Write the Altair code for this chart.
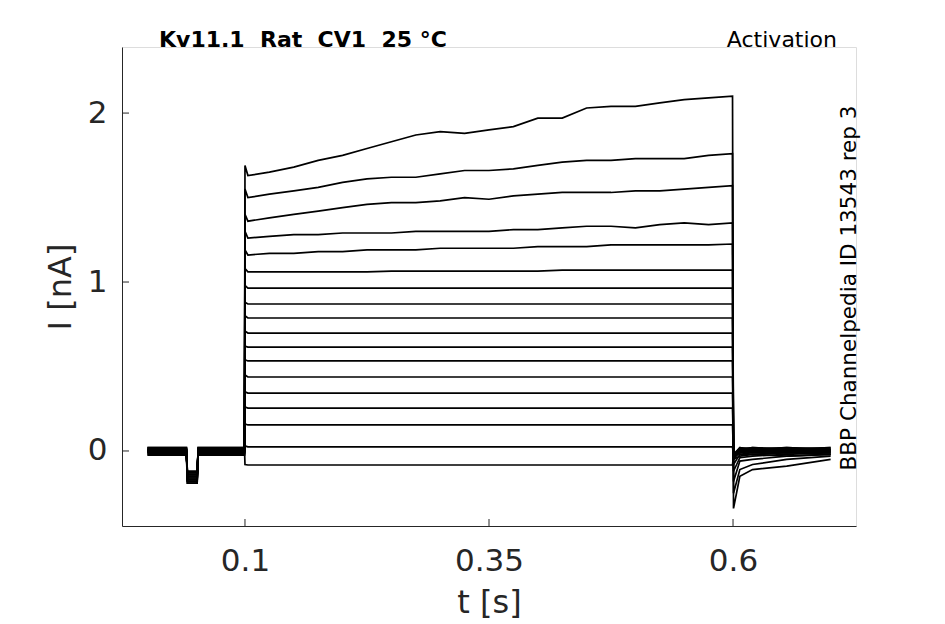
import altair as alt
import pandas as pd

# ---------------- data ----------------
# time points (s)
t_base = [0.0, 0.040, 0.041, 0.046, 0.051, 0.052, 0.0995]
t_step = [0.103, 0.125, 0.15, 0.175, 0.2, 0.225, 0.25, 0.275, 0.3, 0.325, 0.35,
          0.375, 0.4, 0.425, 0.45, 0.475, 0.5, 0.525, 0.55, 0.575, 0.5995]
t_tail = [0.6005, 0.607, 0.62, 0.655, 0.7]

# holding current before the step (nA) and the small artefact dip
baseline = [0.00, 0.01, -0.01, 0.02, -0.02, 0.005, -0.005, 0.015, -0.015,
            0.00, 0.01, -0.01, 0.02, -0.025, 0.005, -0.005, 0.00, 0.01]
dip = [-0.19, -0.17, -0.15, -0.18, -0.13, -0.16, -0.12, -0.17, -0.14,
       -0.18, -0.15, -0.13, -0.16, -0.19, -0.12, -0.14, -0.17, -0.15]

# onset peak at t = 0.1 s
spike = [1.69, 1.55, 1.40, 1.30, 1.19, 1.08, 0.98, 0.88, 0.80, 0.71, 0.62,
         0.54, 0.45, 0.35, 0.26, 0.16, 0.03, -0.08]

# current during the step (nA), one list per trace
step_traces = [
    [1.63, 1.65, 1.68, 1.72, 1.75, 1.79, 1.83, 1.87, 1.89, 1.88, 1.90,
     1.92, 1.97, 1.97, 2.03, 2.04, 2.04, 2.06, 2.08, 2.09, 2.10],
    [1.50, 1.52, 1.54, 1.56, 1.59, 1.61, 1.62, 1.62, 1.64, 1.66, 1.66,
     1.67, 1.69, 1.71, 1.72, 1.72, 1.73, 1.73, 1.73, 1.75, 1.76],
    [1.36, 1.38, 1.40, 1.42, 1.44, 1.46, 1.47, 1.47, 1.48, 1.50, 1.49,
     1.51, 1.52, 1.53, 1.53, 1.53, 1.54, 1.54, 1.55, 1.56, 1.57],
    [1.26, 1.27, 1.28, 1.28, 1.29, 1.29, 1.29, 1.30, 1.30, 1.30, 1.30,
     1.31, 1.31, 1.32, 1.33, 1.33, 1.32, 1.34, 1.35, 1.34, 1.35],
    [1.16, 1.17, 1.17, 1.18, 1.18, 1.19, 1.19, 1.19, 1.20, 1.20, 1.20,
     1.20, 1.21, 1.21, 1.21, 1.22, 1.22, 1.22, 1.22, 1.22, 1.225],
    [1.06, 1.06, 1.06, 1.06, 1.06, 1.06, 1.065, 1.065, 1.065, 1.065, 1.065,
     1.065, 1.065, 1.07, 1.07, 1.07, 1.07, 1.07, 1.07, 1.07, 1.07],
]
# the remaining traces are flat during the step
flat_levels = [0.964, 0.870, 0.787, 0.698, 0.615, 0.533, 0.438, 0.343,
               0.254, 0.154, 0.024, -0.083]

# tail current after the step (nA)
tail_traces = [
    [-0.34, -0.15, -0.11, -0.09, -0.05],
    [-0.25, -0.11, -0.08, -0.05, -0.03],
    [-0.18, -0.06, -0.05, -0.03, -0.02],
    [-0.12, -0.04, -0.03, -0.02, -0.01],
    [-0.08, -0.02, -0.02, -0.01, 0.00],
    [-0.05, 0.00, -0.01, 0.00, -0.01],
    [-0.04, 0.01, 0.00, 0.01, 0.00],
    [-0.03, 0.02, 0.01, 0.02, 0.01],
    [-0.04, -0.01, -0.02, -0.01, -0.02],
    [-0.03, 0.00, 0.01, 0.00, 0.01],
    [-0.02, 0.01, 0.02, 0.01, 0.02],
    [-0.04, -0.01, 0.00, -0.01, 0.00],
    [-0.02, 0.02, 0.01, 0.02, 0.01],
    [-0.05, -0.03, -0.02, -0.03, -0.02],
    [-0.03, 0.00, 0.01, 0.00, 0.01],
    [-0.03, -0.01, 0.00, -0.01, 0.00],
    [-0.03, 0.00, -0.01, 0.00, -0.01],
    [-0.02, 0.01, 0.02, 0.01, 0.02],
]

x_ticks = [0.1, 0.35, 0.6]
y_ticks = [0, 1, 2]

# ---------------- build table ----------------
rows = []
for k in range(18):
    b = baseline[k]
    base_vals = [b, b, dip[k], dip[k], dip[k], b, b]
    if k < len(step_traces):
        sv = step_traces[k]
    else:
        sv = [flat_levels[k - len(step_traces)]] * len(t_step)
    ts = t_base + [0.1] + t_step + t_tail
    vs = base_vals + [spike[k]] + sv + tail_traces[k]
    for i, (t, v) in enumerate(zip(ts, vs)):
        rows.append({"trace": k, "i": i, "t": t, "I": v})
df = pd.DataFrame(rows)

W, H = 734, 479
FONT = "DejaVu Sans"
INK = "#262626"

xscale = alt.Scale(domain=[-0.026, 0.726], nice=False, zero=False)
yscale = alt.Scale(domain=[-0.444, 2.391], nice=False, zero=False)

xaxis = alt.Axis(values=x_ticks, format=".2~f", grid=False, ticks=False, tickSize=0,
                 domainColor=INK, domainWidth=1, labelFontSize=31, labelColor=INK,
                 labelFont=FONT, labelPadding=20, titleFontSize=32, titleFont=FONT,
                 titleFontWeight="normal", titleColor=INK, titlePadding=11,
                 labelFlush=False)
yaxis = alt.Axis(values=y_ticks, format="d", grid=False, ticks=False, tickSize=0,
                 domainColor=INK, domainWidth=1, labelFontSize=31, labelColor=INK,
                 labelFont=FONT, labelPadding=15, titleFontSize=32, titleFont=FONT,
                 titleFontWeight="normal", titleColor=INK, titlePadding=10,
                 labelFlush=False)

lines = alt.Chart(df).mark_line(color="black", strokeWidth=1.7, clip=True).encode(
    x=alt.X("t:Q", scale=xscale, axis=xaxis, title="t [s]"),
    y=alt.Y("I:Q", scale=yscale, axis=yaxis, title="I [nA]"),
    detail="trace:N",
    order="i:Q",
)

yt = alt.Chart(pd.DataFrame({"I": y_ticks})).mark_rule(color=INK, strokeWidth=1).encode(
    y=alt.Y("I:Q", scale=yscale, axis=yaxis, title="I [nA]"),
    x=alt.value(0), x2=alt.value(7),
)
xt = alt.Chart(pd.DataFrame({"t": x_ticks})).mark_rule(color=INK, strokeWidth=1).encode(
    x=alt.X("t:Q", scale=xscale, axis=xaxis, title="t [s]"),
    y=alt.value(H), y2=alt.value(H - 7),
)

ann = pd.DataFrame({"a": [0]})
title = alt.Chart(ann).mark_text(
    text="Kv11.1\u00a0\u00a0Rat\u00a0\u00a0CV1\u00a0\u00a025\u00a0°C", font=FONT,
    fontSize=22, fontWeight="bold", color="black", align="left", baseline="alphabetic",
).encode(x=alt.value(37), y=alt.value(0))
act = alt.Chart(ann).mark_text(
    text="Activation", font=FONT, fontSize=22, color="black", align="right",
    baseline="alphabetic",
).encode(x=alt.value(715), y=alt.value(0))
side = alt.Chart(ann).mark_text(
    text="BBP Channelpedia ID 13543 rep 3", font=FONT, fontSize=21.5, color="black",
    align="center", baseline="middle", angle=270,
).encode(x=alt.value(728), y=alt.value(241))

chart = alt.layer(lines, yt, xt, title, act, side).properties(
    width=W, height=H,
    autosize=alt.AutoSizeParams(type="none"),
    padding={"left": 114, "top": 39, "right": 81, "bottom": 97},
).configure_view(stroke=None).configure(background="white")

chart.save("out.html", embed_options={"renderer": "svg", "actions": False})
